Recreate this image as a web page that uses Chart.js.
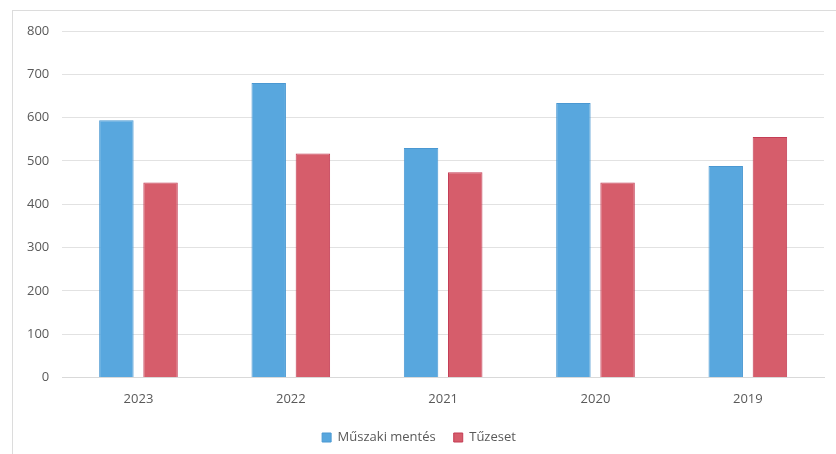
<!DOCTYPE html>
<html>
<head>
<meta charset="utf-8">
<script src="https://cdn.jsdelivr.net/npm/chart.js@4.4.0/dist/chart.umd.min.js"></script>
<style>
  html, body { margin: 0; padding: 0; background: #fff; }
  #wrap { position: relative; width: 836px; height: 454px; }
  #frame { position: absolute; left: 12px; top: 10px; width: 830px; height: 460px; border: 1px solid #dcdcdc; }
</style>
</head>
<body>
<div id="wrap">
  <div id="frame"></div>
  <canvas id="barChart" width="836" height="454"></canvas>
</div>
<script>
const years = ['2023', '2022', '2021', '2020', '2019'];
const muszakiMentes = [594, 680, 530, 634, 488];
const tuzeset = [450, 517, 474, 450, 555];
const yTicks = [0, 100, 200, 300, 400, 500, 600, 700, 800];

new Chart(
    document.getElementById('barChart'),
    {
        type: 'bar',
        data: {
            labels: years,
            datasets: [
                {
                    label: 'Műszaki mentés',
                    data: muszakiMentes,
                    backgroundColor: '#58a7de',
                    borderColor: '#4a98d2',
                    borderWidth: 1
                },
                {
                    label: 'Tűzeset',
                    data: tuzeset,
                    backgroundColor: '#d65d6b',
                    borderColor: '#c43d55',
                    borderWidth: 1
                }
            ]
        },
        options: {
            responsive: false,
            animation: false,
            devicePixelRatio: 1,
            categoryPercentage: 0.58,
            barPercentage: 0.78,
            layout: {
                padding: { left: 14, right: 12, top: 31, bottom: 0 }
            },
            scales: {
                x: {
                    grid: { display: false },
                    border: { display: true, color: '#d9d9d9' },
                    ticks: {
                        color: '#595959',
                        font: { family: 'Open Sans', size: 13 },
                        padding: 6
                    }
                },
                y: {
                    min: 0,
                    max: 800,
                    afterBuildTicks: axis => {
                        axis.ticks = yTicks.map(v => ({ value: v }));
                    },
                    grid: { color: '#e2e2e2', drawTicks: false },
                    border: { display: false },
                    ticks: {
                        color: '#595959',
                        font: { family: 'Open Sans', size: 13 },
                        padding: 13
                    }
                }
            },
            plugins: {
                legend: {
                    position: 'bottom',
                    labels: {
                        color: '#595959',
                        font: { family: 'Open Sans', size: 13 },
                        boxWidth: 9,
                        boxHeight: 9,
                        padding: 18
                    }
                },
                tooltip: { enabled: false }
            }
        }
    }
);
</script>
</body>
</html>
